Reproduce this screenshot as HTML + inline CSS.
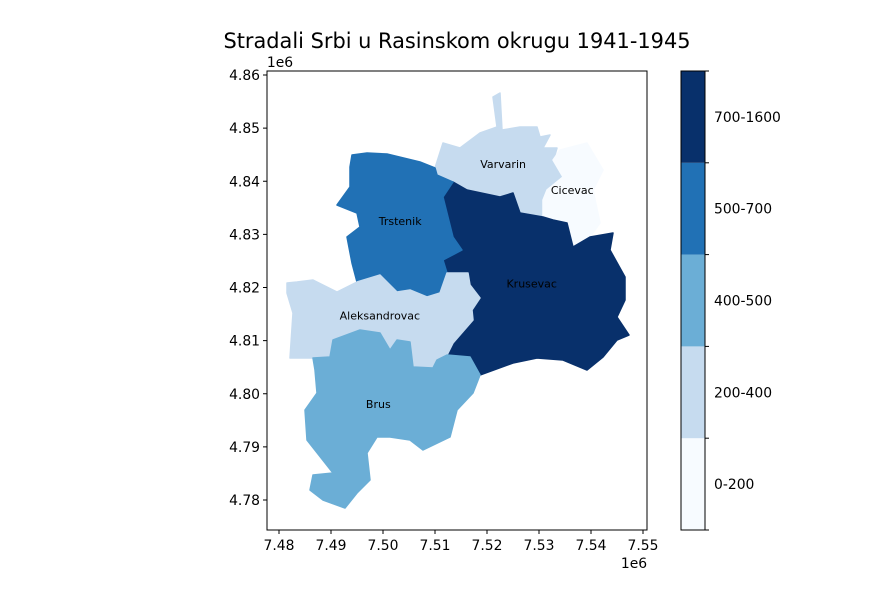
<!DOCTYPE html>
<html><head><meta charset="utf-8"><style>
body{margin:0;background:#fff}
svg text{font-family:"DejaVu Sans","Liberation Sans",sans-serif}
</style></head><body>
<svg id="fig" width="869" height="595" viewBox="0 0 869 595" xmlns="http://www.w3.org/2000/svg">
<rect width="869" height="595" fill="#fff"/>
<text x="457" y="48" text-anchor="middle" font-size="20.9">Stradali Srbi u Rasinskom okrugu 1941-1945</text>
<g id="map"></g>
<g id="labels"></g>
<rect x="267" y="71" width="380" height="459" fill="none" stroke="#000" stroke-width="1"/>
<g id="xaxis"></g>
<g id="yaxis"></g>
<text x="634" y="568" text-anchor="middle" font-size="13.9">1e6</text>
<text x="280" y="67" text-anchor="middle" font-size="13.9">1e6</text>
<g id="cbar"></g>
</svg>
<script>
const NS="http://www.w3.org/2000/svg";
const classLabels=["0-200","200-400","400-500","500-700","700-1600"];
const classColors=["#f7fbff","#c6dbef","#6baed6","#2171b5","#08306b"];
const regionNames=["Varvarin","Cicevac","Krusevac","Trstenik","Aleksandrovac","Brus"];
const regionClass=[1,0,4,3,1,2];
const xTicks=[7.48,7.49,7.50,7.51,7.52,7.53,7.54,7.55];
const yTicks=[4.78,4.79,4.80,4.81,4.82,4.83,4.84,4.85,4.86];
// region label positions in map coords (1e6 units)
const labelX=[7.5231,7.5364,7.5286,7.5033,7.4994,7.4991];
const labelY=[4.8425,4.8376,4.8200,4.8318,4.8140,4.7973];
function sx(v){return 279+(v-7.48)*5200;}
function sy(v){return 500-(v-4.78)*5312.5;}
// outlines (pixel geometry of regions)
const shapes={
Varvarin:[[435,168],[443,143],[460,148],[480,133],[497,127],[493,97],[500,93],[502,130],[520,127],[537,127],[540,137],[550,135],[543,148],[557,148],[553,162],[563,177],[547,190],[543,200],[543,217],[520,213],[513,193],[500,197],[467,190],[453,182],[437,175]],
Cicevac:[[563,177],[553,160],[560,150],[587,143],[603,170],[593,190],[600,223],[590,237],[573,247],[567,223],[553,220],[543,217],[543,200],[547,190]],
Krusevac:[[453,182],[467,190],[500,197],[513,193],[520,213],[543,217],[553,220],[567,223],[573,247],[590,237],[613,233],[610,250],[625,277],[625,300],[617,317],[629,335],[617,340],[603,357],[587,370],[563,360],[537,358],[513,363],[480,375],[470,357],[447,355],[453,343],[473,320],[472,310],[480,298],[470,285],[468,273],[447,273],[443,260],[462,250],[453,237],[443,197]],
Trstenik:[[352,155],[367,153],[387,154],[420,162],[435,168],[437,175],[453,182],[443,197],[453,237],[462,250],[443,260],[447,273],[440,293],[427,297],[410,290],[397,292],[380,275],[357,282],[352,263],[347,237],[360,227],[357,213],[337,205],[350,187],[350,167]],
Aleksandrovac:[[287,283],[297,282],[313,280],[337,292],[357,282],[380,275],[397,292],[410,290],[427,297],[440,293],[447,273],[468,273],[470,285],[480,298],[472,310],[473,320],[453,343],[447,355],[437,360],[433,368],[413,367],[410,342],[397,340],[390,350],[380,333],[360,330],[333,340],[330,357],[313,358],[290,358],[293,313],[287,293]],
Brus:[[313,358],[330,357],[333,340],[360,330],[380,333],[390,350],[397,340],[410,342],[413,367],[433,368],[437,360],[447,355],[470,357],[480,375],[473,393],[457,410],[450,437],[423,450],[410,440],[390,437],[377,437],[367,453],[370,480],[357,493],[345,508],[323,500],[310,490],[313,475],[333,473],[307,440],[305,410],[317,393],[315,370]]
};
const map=document.getElementById('map');
regionNames.forEach((n,i)=>{
  const p=document.createElementNS(NS,'polygon');
  p.setAttribute('points',shapes[n].map(q=>q.join(',')).join(' '));
  p.setAttribute('fill',classColors[regionClass[i]]);
  p.setAttribute('stroke',classColors[regionClass[i]]);
  p.setAttribute('stroke-width','1.5');
  p.setAttribute('stroke-linejoin','round');
  
  
  map.appendChild(p);
});
const lab=document.getElementById('labels');
regionNames.forEach((n,i)=>{
  const t=document.createElementNS(NS,'text');
  t.setAttribute('x',sx(labelX[i]));t.setAttribute('y',sy(labelY[i]));
  t.setAttribute('text-anchor','middle');t.setAttribute('font-size','11');
  t.textContent=n;
  
  
  lab.appendChild(t);
});
const xa=document.getElementById('xaxis');
xTicks.forEach(v=>{
  const x=sx(v);
  const l=document.createElementNS(NS,'line');
  l.setAttribute('x1',x);l.setAttribute('x2',x);l.setAttribute('y1',530);l.setAttribute('y2',534);l.setAttribute('stroke','#000');
  
  
  xa.appendChild(l);
  const t=document.createElementNS(NS,'text');
  t.setAttribute('x',x);t.setAttribute('y',550);t.setAttribute('text-anchor','middle');t.setAttribute('font-size','13.9');
  t.textContent=v.toFixed(2);
  
  
  xa.appendChild(t);
});
const ya=document.getElementById('yaxis');
yTicks.forEach(v=>{
  const y=sy(v);
  const l=document.createElementNS(NS,'line');
  l.setAttribute('x1',263);l.setAttribute('x2',267);l.setAttribute('y1',y);l.setAttribute('y2',y);l.setAttribute('stroke','#000');
  
  
  ya.appendChild(l);
  const t=document.createElementNS(NS,'text');
  t.setAttribute('x',260);t.setAttribute('y',y+5);t.setAttribute('text-anchor','end');t.setAttribute('font-size','13.9');
  t.textContent=v.toFixed(2);
  
  
  ya.appendChild(t);
});
const cb=document.getElementById('cbar');
const segH=459/classLabels.length;
classLabels.forEach((s,i)=>{
  const y0=530-(i+1)*segH;
  const r=document.createElementNS(NS,'rect');
  r.setAttribute('x',681);r.setAttribute('y',y0);r.setAttribute('width',24);r.setAttribute('height',segH);r.setAttribute('fill',classColors[i]);
  
  
  cb.appendChild(r);
  const t=document.createElementNS(NS,'text');
  t.setAttribute('x',714);t.setAttribute('y',y0+segH/2+5);t.setAttribute('font-size','13.9');
  t.textContent=s;
  
  
  cb.appendChild(t);
});
for(let i=0;i<=classLabels.length;i++){
  const y=530-i*segH;
  const l=document.createElementNS(NS,'line');
  l.setAttribute('x1',705);l.setAttribute('x2',709);l.setAttribute('y1',y);l.setAttribute('y2',y);l.setAttribute('stroke','#000');
  
  
  cb.appendChild(l);
}
const fr=document.createElementNS(NS,'rect');
fr.setAttribute('x',681);fr.setAttribute('y',71);fr.setAttribute('width',24);fr.setAttribute('height',459);fr.setAttribute('fill','none');fr.setAttribute('stroke','#000');


cb.appendChild(fr);
</script>
</body></html>
